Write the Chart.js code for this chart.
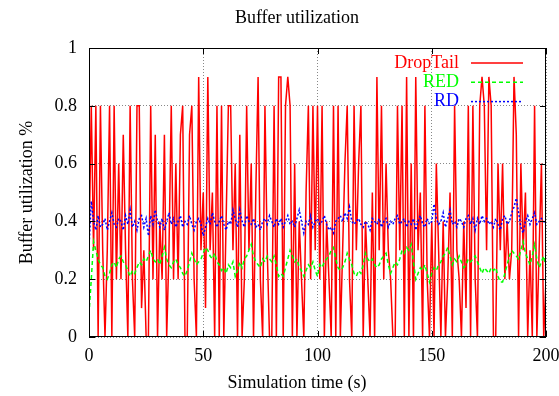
<!DOCTYPE html>
<html>
<head>
<meta charset="utf-8">
<script src="https://cdn.jsdelivr.net/npm/chart.js@4/dist/chart.umd.min.js"></script>
<style>
    html, body { margin: 0; padding: 0; background: #fff; }
    #wrap { width: 559px; height: 396px; }
</style>
</head>
<body>
<div id="wrap"><canvas id="bufChart" width="559" height="396"></canvas></div>
<script>
// 数据: 每秒一个采样点 (0 ~ 200 s)
const dropTail = [
    0.3, 0.8, 0.3, 0.8, 0, 0.8, 0.3, 0, 0.3, 0.8,
    0, 0.8, 0.2, 0.6, 0.2, 0.7, 0.3, 0, 0.8, 0.2,
    0, 0.8, 0.8, 0.1, 0.3, 0, 0, 0.8, 0.2, 0.7,
    0, 0.4, 0.2, 0.7, 0, 0.3, 0.8, 0.2, 0.6, 0.2,
    0.7, 0.8, 0, 0, 0.7, 0.8, 0.2, 0, 0.9, 0.3,
    0.5, 0.1, 0.9, 0.3, 0.5, 0, 0.8, 0, 0.8, 0,
    0.4, 0.8, 0.8, 0.3, 0.6, 0, 0.7, 0, 0.2, 0.8,
    0.3, 0.6, 0, 0.5, 0.9, 0.2, 0, 0.8, 0.3, 0,
    0, 0.8, 0, 0.9, 0.9, 0, 0.8, 0.9, 0.8, 0,
    0.6, 0, 0.4, 0.2, 0, 0.5, 0.8, 0.2, 0.8, 0.3,
    0.8, 0.2, 0.8, 0, 0.4, 0.2, 0, 0.8, 0, 0.8,
    0, 0.3, 0.6, 0.8, 0.2, 0, 0.8, 0.3, 0.6, 0.8,
    0, 0.4, 0.2, 0, 0.5, 0, 0.9, 0.3, 0.8, 0.2,
    0.6, 0.3, 0.2, 0, 0, 0.8, 0.3, 0.8, 0, 0.9,
    0, 0.6, 0, 0.9, 0.3, 0.5, 0, 0.8, 0.2, 0,
    0.4, 0, 0.6, 0.3, 0, 0.4, 0, 0.2, 0.5, 0,
    0.8, 0.3, 0.2, 0, 0.4, 0.1, 0.8, 0, 0.8, 0.2,
    0, 0.8, 0.9, 0.8, 0.3, 0.9, 0.8, 0, 0, 0.6,
    0.3, 0.6, 0.2, 0.4, 0.2, 0.3, 0.9, 0.7, 0, 0.6,
    0.3, 0.5, 0, 0.3, 0, 0.8, 0, 0.3, 0.6, 0,
    0.2
];

const redQueue = [
    0.08, 0.2, 0.33, 0.3, 0.27, 0.25, 0.24, 0.21, 0.2, 0.22,
    0.25, 0.26, 0.24, 0.27, 0.28, 0.26, 0.25, 0.23, 0.21, 0.23,
    0.22, 0.24, 0.26, 0.25, 0.27, 0.26, 0.28, 0.3, 0.27, 0.26,
    0.27, 0.25, 0.28, 0.31, 0.27, 0.25, 0.24, 0.26, 0.27, 0.25,
    0.24, 0.22, 0.21, 0.23, 0.26, 0.29, 0.27, 0.25, 0.26, 0.27,
    0.29, 0.31, 0.3, 0.28, 0.27, 0.29, 0.26, 0.25, 0.23, 0.24,
    0.22, 0.25, 0.24, 0.26, 0.21, 0.23, 0.26, 0.24, 0.27, 0.28,
    0.3, 0.32, 0.28, 0.26, 0.25, 0.24, 0.27, 0.26, 0.28, 0.27,
    0.26, 0.28, 0.25, 0.21, 0.22, 0.21, 0.24, 0.27, 0.3, 0.28,
    0.26, 0.27, 0.24, 0.23, 0.21, 0.23, 0.25, 0.24, 0.26, 0.23,
    0.21, 0.25, 0.24, 0.26, 0.27, 0.28, 0.3, 0.31, 0.27, 0.24,
    0.23, 0.24, 0.26, 0.29, 0.27, 0.25, 0.22, 0.21, 0.23, 0.22,
    0.25, 0.29, 0.27, 0.26, 0.27, 0.25, 0.24, 0.25, 0.27, 0.28,
    0.29, 0.25, 0.22, 0.24, 0.26, 0.25, 0.27, 0.3, 0.29, 0.31,
    0.3, 0.32, 0.26, 0.2, 0.22, 0.24, 0.23, 0.25, 0.22, 0.19,
    0.22, 0.24, 0.23, 0.25, 0.26, 0.28, 0.29, 0.31, 0.28, 0.25,
    0.27, 0.26, 0.28, 0.26, 0.24, 0.25, 0.27, 0.26, 0.27, 0.28,
    0.26, 0.24, 0.22, 0.24, 0.23, 0.22, 0.24, 0.23, 0.24, 0.21,
    0.19, 0.19, 0.22, 0.25, 0.28, 0.3, 0.29, 0.28, 0.27, 0.3,
    0.33, 0.29, 0.27, 0.25, 0.28, 0.32, 0.27, 0.24, 0.26, 0.28,
    0.24
];

const rdQueue = [
    0.31, 0.47, 0.4, 0.37, 0.42, 0.38, 0.39, 0.41, 0.37, 0.4,
    0.43, 0.39, 0.38, 0.41, 0.4, 0.37, 0.42, 0.39, 0.44, 0.38,
    0.4, 0.37, 0.41, 0.42, 0.38, 0.41, 0.35, 0.42, 0.39, 0.44,
    0.4, 0.38, 0.41, 0.37, 0.4, 0.43, 0.39, 0.41, 0.38, 0.4,
    0.42, 0.38, 0.4, 0.39, 0.42, 0.39, 0.37, 0.4, 0.41, 0.39,
    0.35, 0.38, 0.41, 0.39, 0.43, 0.4, 0.38, 0.4, 0.42, 0.39,
    0.37, 0.4, 0.39, 0.44, 0.41, 0.38, 0.44, 0.4, 0.38, 0.42,
    0.4, 0.39, 0.41, 0.38, 0.39, 0.37, 0.4, 0.41, 0.39, 0.42,
    0.4, 0.38, 0.41, 0.39, 0.41, 0.38, 0.4, 0.42, 0.39, 0.4,
    0.38, 0.41, 0.44, 0.4, 0.36, 0.4, 0.39, 0.42, 0.38, 0.4,
    0.41, 0.39, 0.4, 0.42, 0.39, 0.37, 0.38, 0.36, 0.4, 0.41,
    0.42, 0.4, 0.43, 0.41, 0.45, 0.4, 0.39, 0.4, 0.41, 0.39,
    0.38, 0.4, 0.39, 0.37, 0.41, 0.4, 0.39, 0.41, 0.38, 0.4,
    0.41, 0.38, 0.4, 0.39, 0.41, 0.42, 0.39, 0.4, 0.41, 0.38,
    0.4, 0.39, 0.41, 0.37, 0.4, 0.42, 0.39, 0.38, 0.41, 0.39,
    0.4, 0.46, 0.41, 0.39, 0.4, 0.43, 0.38, 0.41, 0.44, 0.39,
    0.4, 0.38, 0.41, 0.4, 0.38, 0.41, 0.42, 0.39, 0.41, 0.37,
    0.41, 0.39, 0.42, 0.4, 0.41, 0.39, 0.4, 0.38, 0.41, 0.39,
    0.37, 0.41, 0.42, 0.39, 0.4, 0.43, 0.45, 0.48, 0.43, 0.38,
    0.36, 0.4, 0.42, 0.39, 0.41, 0.43, 0.39, 0.4, 0.41, 0.4,
    0.39
];

// 采样时间 (s)
const times = dropTail.map((_, i) => i);

const xTicks = [0, 50, 100, 150, 200];
const yTicks = [0, 0.2, 0.4, 0.6, 0.8, 1];

const seriesNames = ['DropTail', 'RED', 'RD'];
const seriesColors = ['#ff0000', '#00ff00', '#0000ff'];
const seriesDash = [[], [4, 3], [2, 2]];

const FONT = '"Liberation Serif", "DejaVu Serif", serif';
const FONT_SIZE = 18;

function toPoints(values) {
    return values.map((v, i) => ({ x: times[i], y: v }));
}

/**
 * gnuplot 风格: 标题, x 轴标题, 边框, 内向刻度, 图例
 */
const gnuplotFrame = {
    id: 'gnuplotFrame',
    afterDraw(chart) {
        const { ctx, chartArea: a, scales } = chart;
        ctx.save();

        // 标题 (gnuplot 按整幅图居中, 略偏左于绘图区中心)
        ctx.fillStyle = '#000';
        ctx.font = FONT_SIZE + 'px ' + FONT;
        ctx.textAlign = 'center';
        ctx.textBaseline = 'middle';
        ctx.fillText('Buffer utilization', 297, 18);
        ctx.fillText('Simulation time (s)', 297, 383);

        // 边框
        ctx.strokeStyle = '#000';
        ctx.lineWidth = 1;
        ctx.setLineDash([]);
        ctx.strokeRect(a.left + 0.5, a.top + 0.5, a.right - a.left - 1, a.bottom - a.top - 1);

        // 内向刻度
        const tl = 6;
        ctx.beginPath();
        xTicks.forEach(v => {
            const px = Math.round(scales.x.getPixelForValue(v)) + 0.5;
            ctx.moveTo(px, a.bottom);
            ctx.lineTo(px, a.bottom - tl);
            ctx.moveTo(px, a.top);
            ctx.lineTo(px, a.top + tl);
        });
        yTicks.forEach(v => {
            const py = Math.round(scales.y.getPixelForValue(v)) + 0.5;
            ctx.moveTo(a.left, py);
            ctx.lineTo(a.left + tl, py);
            ctx.moveTo(a.right, py);
            ctx.lineTo(a.right - tl, py);
        });
        ctx.stroke();

        // 图例 (右上角, 文字右对齐 + 线样)
        ctx.font = FONT_SIZE + 'px ' + FONT;
        ctx.textAlign = 'right';
        seriesNames.forEach((name, i) => {
            const y = a.top + 15 + i * 19.3;
            ctx.fillStyle = seriesColors[i];
            ctx.fillText(name, a.right - 87, y);
            ctx.strokeStyle = seriesColors[i];
            ctx.lineWidth = 1.5;
            ctx.setLineDash(seriesDash[i]);
            ctx.beginPath();
            ctx.moveTo(a.right - 75, y);
            ctx.lineTo(a.right - 23, y);
            ctx.stroke();
        });

        ctx.restore();
    }
};

function buildDataset(idx, values) {
    return {
        label: seriesNames[idx],
        data: toPoints(values),
        borderColor: seriesColors[idx],
        borderWidth: 1.5,
        borderDash: seriesDash[idx],
        pointRadius: 0,
        tension: 0,
        fill: false,
        order: 3 - idx
    };
}

function initChart() {
    const ctx = document.getElementById('bufChart').getContext('2d');

    new Chart(ctx, {
        type: 'line',
        data: {
            datasets: [
                buildDataset(0, dropTail),
                buildDataset(1, redQueue),
                buildDataset(2, rdQueue)
            ]
        },
        options: {
            responsive: false,
            animation: false,
            events: [],
            layout: {
                padding: { top: 48, right: 13, left: 0, bottom: 0 }
            },
            plugins: {
                legend: { display: false },
                tooltip: { enabled: false },
                title: { display: false }
            },
            scales: {
                x: {
                    type: 'linear',
                    min: 0,
                    max: 200,
                    afterBuildTicks: scale => {
                        scale.ticks = xTicks.map(v => ({ value: v }));
                    },
                    afterFit: scale => {
                        scale.height = 59;
                        scale.paddingLeft = 0;
                        scale.paddingRight = 0;
                    },
                    ticks: {
                        color: '#000',
                        font: { family: FONT, size: FONT_SIZE },
                        padding: 8,
                        maxRotation: 0
                    },
                    grid: {
                        color: '#888',
                        lineWidth: 1,
                        drawTicks: false
                    },
                    border: { display: false, dash: [1, 2] },
                    title: { display: false }
                },
                y: {
                    type: 'linear',
                    min: 0,
                    max: 1,
                    afterBuildTicks: scale => {
                        scale.ticks = yTicks.map(v => ({ value: v }));
                    },
                    afterFit: scale => {
                        scale.width = 89;
                        scale.paddingTop = 0;
                        scale.paddingBottom = 0;
                    },
                    ticks: {
                        color: '#000',
                        font: { family: FONT, size: FONT_SIZE },
                        padding: 12,
                        callback: v => String(Math.round(v * 10) / 10)
                    },
                    grid: {
                        color: '#888',
                        lineWidth: 1,
                        drawTicks: false
                    },
                    border: { display: false, dash: [1, 2] },
                    title: {
                        display: true,
                        text: 'Buffer utilization %',
                        color: '#000',
                        font: { family: FONT, size: FONT_SIZE },
                        padding: { top: 16, bottom: 0 }
                    }
                }
            }
        },
        plugins: [gnuplotFrame]
    });
}

initChart();
</script>
</body>
</html>
